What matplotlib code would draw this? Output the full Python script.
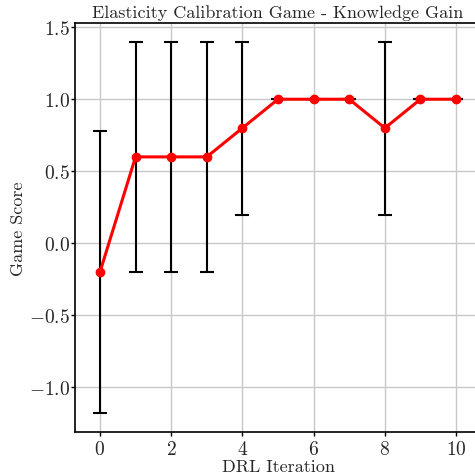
import matplotlib
matplotlib.use("Agg")
import matplotlib.pyplot as plt

iterations = [0, 1, 2, 3, 4, 5, 6, 7, 8, 9, 10]
scores = [-0.2, 0.6, 0.6, 0.6, 0.8, 1.0, 1.0, 1.0, 0.8, 1.0, 1.0]
errors = [0.98, 0.8, 0.8, 0.8, 0.6, 0.0, 0.0, 0.0, 0.6, 0.0, 0.0]
xticks = [0, 2, 4, 6, 8, 10]
yticks = [-1.0, -0.5, 0.0, 0.5, 1.0, 1.5]

plt.rcParams['font.family'] = 'serif'
plt.rcParams['font.serif'] = ['cmr10', 'DejaVu Serif']
plt.rcParams['mathtext.fontset'] = 'cm'
plt.rcParams['axes.formatter.use_mathtext'] = True
plt.rcParams['font.size'] = 14
txt = '#262626'

fig = plt.figure(figsize=(4.75, 4.77), dpi=100)
ax = fig.add_axes([75/475, 1-433/477, (481-75)/475, (433-24)/477])

ax.errorbar(iterations, scores, yerr=errors, fmt='none', ecolor='black',
            elinewidth=1.5, capsize=5, capthick=1.5, zorder=2)
ax.plot(iterations, scores, color='red', linewidth=2.2, marker='o',
        markersize=6, zorder=3)

ax.set_xlim(-0.7, 10.7)
ax.set_ylim(-1.309, 1.529)
ax.set_xticks(xticks)
ax.set_yticks(yticks)
ax.grid(True, color='#c8c8c8', linewidth=1.0)
ax.set_axisbelow(True)
for s in ax.spines.values():
    s.set_color('black')
    s.set_linewidth(1.2)
ax.tick_params(direction='out', length=3, width=1, colors='black', labelcolor=txt,
               labelsize=14)
ax.tick_params(axis='x', pad=2.5)
ax.tick_params(axis='y', pad=0.5)
ax.set_title('Elasticity Calibration Game - Knowledge Gain', fontsize=13, color=txt, pad=4)
ax.set_xlabel('DRL Iteration', fontsize=13, color=txt, labelpad=1)
ax.set_ylabel('Game Score', fontsize=13, color=txt, labelpad=2)

fig.savefig('out.png', dpi=100)
